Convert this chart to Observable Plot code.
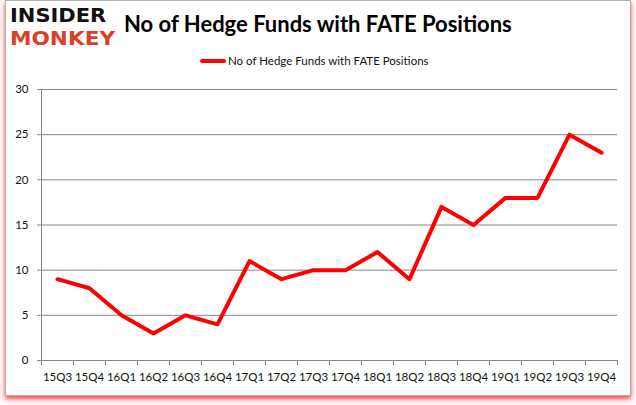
<!DOCTYPE html>
<html>
<head>
<meta charset="utf-8">
<script src="https://cdn.jsdelivr.net/npm/d3@7"></script>
<script src="https://cdn.jsdelivr.net/npm/@observablehq/plot@0.6"></script>
<style>
  html, body { margin: 0; padding: 0; background: #fff; }
  #wrap { position: relative; width: 636px; height: 405px; overflow: hidden; background: #fff; }
  #frame { position: absolute; left: 5px; top: 0px; width: 624px; height: 394px; border: 1px solid #b0b0b0; box-shadow: 0 3px 5px rgba(255,0,0,0.75); }
  #chart { position: absolute; left: 0; top: 0; }
  #title { position: absolute; left: 124px; top: 10px; font-family: Lato, "Open Sans", sans-serif; font-weight: bold; font-size: 22px; color: #000; white-space: nowrap; }
  #legend { position: absolute; left: 200px; top: 54px; font-family: Lato, "Open Sans", sans-serif; font-size: 11.5px; color: #111; white-space: nowrap; display: flex; align-items: center; }
  #legend .sw { display: inline-block; width: 26px; height: 4px; background: #ff0000; border-radius: 2px; margin-right: 2px; }
  .logo { position: absolute; left: 10px; font-family: "DejaVu Sans", sans-serif; font-weight: bold; font-size: 20px; line-height: 22px; letter-spacing: 0px; white-space: nowrap; transform-origin: left top; }
  #logoA { top: 4px; color: #111; transform: scale(1.05, 1.0); }
  #logoB { top: 27px; color: #d9402b; transform: scale(1.08, 1.0); }
</style>
</head>
<body>
<div id="wrap">
  <div id="frame"></div>
  <div id="chart"></div>
  <div class="logo" id="logoA">INSIDER</div>
  <div class="logo" id="logoB">MONKEY</div>
  <div id="title">No of Hedge Funds with FATE Positions</div>
  <div id="legend"><span class="sw"></span>No of Hedge Funds with FATE Positions</div>
</div>
<script>
const quarters = ["15Q3","15Q4","16Q1","16Q2","16Q3","16Q4","17Q1","17Q2","17Q3","17Q4","18Q1","18Q2","18Q3","18Q4","19Q1","19Q2","19Q3","19Q4"];
const funds = [9, 8, 5, 3, 5, 4, 11, 9, 10, 10, 12, 9, 17, 15, 18, 18, 25, 23];
const yTicks = [0, 5, 10, 15, 20, 25, 30];

const data = quarters.map((q, i) => ({q, i: i + 0.5, v: funds[i]}));
const n = quarters.length;
const boundaries = d3.range(n + 1);
const centers = d3.range(n).map(i => i + 0.5);

const chart = Plot.plot({
  width: 636,
  height: 405,
  marginLeft: 41,
  marginRight: 19,
  marginTop: 89,
  marginBottom: 45,
  style: {fontFamily: "Lato, 'Open Sans', sans-serif", fontSize: "11.5px", color: "#111", background: "transparent"},
  x: {type: "linear", domain: [0, n]},
  y: {domain: [0, 30]},
  marks: [
    Plot.gridY(yTicks, {stroke: "#888", strokeOpacity: 1, strokeWidth: 1}),
    Plot.ruleX([0], {stroke: "#888"}),
    Plot.ruleY([0], {stroke: "#888"}),
    Plot.axisY(yTicks, {tickSize: 4, tickPadding: 9, stroke: "#888", fill: "#111", label: null}),
    Plot.axisX(boundaries, {tickSize: 5, tickFormat: () => "", stroke: "#888", label: null}),
    Plot.axisX(centers, {tickSize: 0, tickPadding: 12, tickFormat: d => quarters[Math.floor(d)], fill: "#111", label: null}),
    Plot.line(data, {x: "i", y: "v", stroke: "#ff0000", strokeWidth: 4, strokeLinecap: "round", strokeLinejoin: "round"})
  ]
});
document.getElementById("chart").appendChild(chart);
</script>
</body>
</html>
